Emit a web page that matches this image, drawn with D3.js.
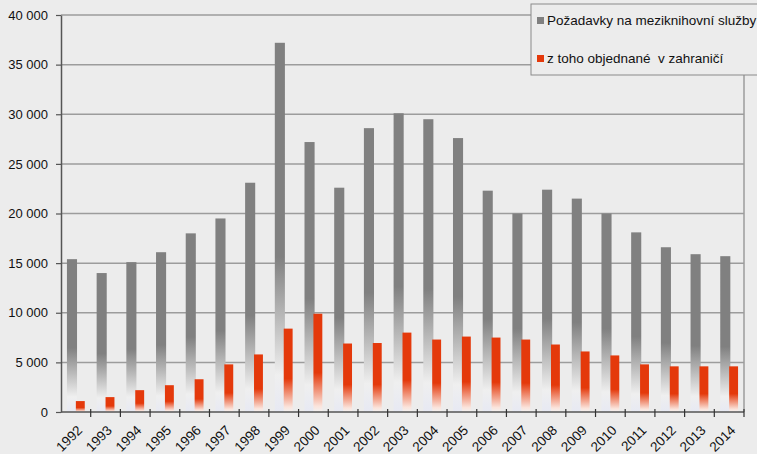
<!DOCTYPE html>
<html>
<head>
<meta charset="utf-8">
<script src="https://cdn.jsdelivr.net/npm/d3@7"></script>
<style>
  body { margin: 0; background: #ececec; }
  svg { display: block; font-family: "Liberation Sans", Arial, sans-serif; }
</style>
</head>
<body>
<div id="chart"></div>
<script>
// chart data
const years = ["1992","1993","1994","1995","1996","1997","1998","1999","2000","2001","2002","2003",
               "2004","2005","2006","2007","2008","2009","2010","2011","2012","2013","2014"];
const requests = [15400, 14000, 15100, 16100, 18000, 19500, 23100, 37200, 27200, 22600, 28600, 30100,
                  29500, 27600, 22300, 20000, 22400, 21500, 20000, 18100, 16600, 15900, 15700];
const abroad = [1100, 1500, 2200, 2700, 3300, 4800, 5800, 8400, 9900, 6900, 6950, 8000,
                7300, 7600, 7500, 7300, 6800, 6100, 5700, 4800, 4600, 4600, 4600];
const yTicks = [0, 5000, 10000, 15000, 20000, 25000, 30000, 35000, 40000];
const seriesNames = ["Požadavky na meziknihovní služby", "z toho objednané  v zahraničí"];

const width = 757, height = 454;
const margin = {left: 61, right: 13, top: 15, bottom: 42};

let svg = d3.select("#chart").append("svg")
    .attr("width", width)
    .attr("height", height);

svg.append("rect").attr("width", width).attr("height", height).attr("fill", "#ececec");

// gradients fading towards the bottom of each bar
let defs = svg.append("defs");
function fade(id, color, stops) {
    let g = defs.append("linearGradient").attr("id", id)
        .attr("x1", 0).attr("y1", 0).attr("x2", 0).attr("y2", 1);
    g.append("stop").attr("offset", 0).attr("stop-color", color);
    stops.forEach(s => g.append("stop").attr("offset", s[0]).attr("stop-color", s[1]));
}
fade("grayFade", "#808080", [[0.58, "#808080"], [0.9, "#efefef"], [1, "#e7e9f3"]]);
fade("redFade", "#e4390b", [[0.6, "#e4390b"], [0.94, "#fbe4dc"], [1, "#f2f2f2"]]);

let x = d3.scaleBand()
    .domain(years)
    .range([margin.left, width - margin.right])
    .padding(0);

let y = d3.scaleLinear()
    .domain([0, 40000])
    .range([height - margin.bottom, margin.top]);

let bw = x.bandwidth();
let fmt = v => d3.format(",")(v).replace(/,/g, " ");

// gridlines
svg.append("g")
    .selectAll("line")
    .data(yTicks.filter(d => d > 0))
    .join("line")
    .attr("x1", margin.left).attr("x2", width - margin.right)
    .attr("y1", d => y(d)).attr("y2", d => y(d))
    .attr("stroke", "#9c9c9c")
    .attr("stroke-width", 1.5);

// right border of plot area
svg.append("line")
    .attr("x1", width - margin.right).attr("x2", width - margin.right)
    .attr("y1", margin.top).attr("y2", y(0))
    .attr("stroke", "#9c9c9c").attr("stroke-width", 1.5);

// bars
svg.append("g")
    .selectAll("rect")
    .data(years)
    .join("rect")
    .attr("x", (d, i) => x(d) + bw * 0.2)
    .attr("width", bw * 0.34)
    .attr("y", (d, i) => y(requests[i]))
    .attr("height", (d, i) => y(0) - y(requests[i]))
    .attr("fill", "url(#grayFade)");

svg.append("g")
    .selectAll("rect")
    .data(years)
    .join("rect")
    .attr("x", (d, i) => x(d) + bw * 0.5)
    .attr("width", bw * 0.3)
    .attr("y", (d, i) => y(abroad[i]))
    .attr("height", (d, i) => y(0) - y(abroad[i]))
    .attr("fill", "url(#redFade)");

// y axis
let yAxis = svg.append("g")
    .attr("transform", `translate(${margin.left},0)`)
    .call(d3.axisLeft(y).tickValues(yTicks).tickFormat(fmt).tickSize(5).tickSizeOuter(0));
yAxis.select(".domain").attr("stroke", "#555").attr("stroke-width", 1.5);
yAxis.selectAll(".tick line").attr("stroke", "#555").attr("stroke-width", 1.2);
yAxis.selectAll("text")
    .attr("x", -13)
    .attr("fill", "#111")
    .style("font-size", "13px")
    .style("font-family", "Liberation Sans, Arial, sans-serif");

// x axis
let xAxis = svg.append("g")
    .attr("transform", `translate(0,${y(0)})`);
xAxis.append("line")
    .attr("x1", margin.left).attr("x2", width - margin.right)
    .attr("stroke", "#555").attr("stroke-width", 1.5);
xAxis.selectAll("line.tk")
    .data(years)
    .join("line")
    .attr("class", "tk")
    .attr("x1", d => x(d) + bw).attr("x2", d => x(d) + bw)
    .attr("y1", -3).attr("y2", 5)
    .attr("stroke", "#333").attr("stroke-width", 1.2);
xAxis.selectAll("text")
    .data(years)
    .join("text")
    .attr("transform", d => `translate(${x(d) + bw / 2},${12}) rotate(-45)`)
    .attr("text-anchor", "end")
    .attr("dy", "0.75em")
    .attr("fill", "#111")
    .style("font-size", "13.5px")
    .text(d => d);

// legend
let legend = svg.append("g");
legend.append("rect")
    .attr("x", 531).attr("y", 4)
    .attr("width", 240).attr("height", 71)
    .attr("fill", "#ececec")
    .attr("stroke", "#8a8a8a").attr("stroke-width", 1);
const legendColors = ["#808080", "#e4390b"];
seriesNames.forEach((name, i) => {
    let ly = 21 + i * 38;
    legend.append("rect")
        .attr("x", 537).attr("y", ly - 4)
        .attr("width", 7).attr("height", 7)
        .attr("fill", legendColors[i]);
    legend.append("text")
        .attr("x", 547).attr("y", ly + 4)
        .attr("fill", "#111")
        .style("font-size", "13.5px")
        .style("white-space", "pre")
        .text(name);
});
</script>
</body>
</html>
